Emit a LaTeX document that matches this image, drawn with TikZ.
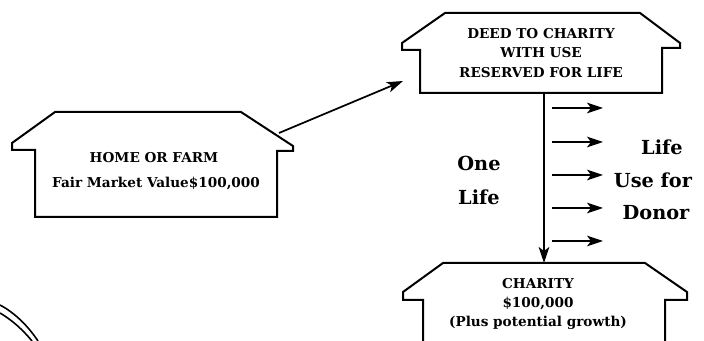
\documentclass[tikz,border=0pt]{standalone}
\usepackage{fontspec}
\setmainfont{DejaVu Serif}
\usetikzlibrary{arrows.meta,positioning}
\tikzset{
	house/.style={draw,line width=1.5pt,line join=miter},
	lbl/.style={font=\bfseries\fontsize{10.2}{14.5}\selectfont,align=center},
	big/.style={font=\bfseries\fontsize{14.5}{18}\selectfont},
	flow/.style={line width=1.3pt,-{Stealth[length=12pt,width=8pt,inset=3pt]}}
}
\begin{document}
\begin{tikzpicture}[x=0.75pt,y=-0.75pt]
	\useasboundingbox (0,0) rectangle (704,341);
	% houses
	\draw[house] (35,217) -- (35,150) -- (12,150) -- (12,143) -- (55,112) -- (241,112)
		-- (293,146) -- (293,151) -- (277,151) -- (277,217) -- cycle;
	\draw[house] (420,93) -- (420,50) -- (402,50) -- (402,43) -- (445,13) -- (640,13)
		-- (680,43) -- (680,48) -- (662,48) -- (662,93) -- cycle;
	\draw[house] (423,341) -- (423,300) -- (403,300) -- (403,292) -- (443,263) -- (645,263)
		-- (687,292) -- (687,300) -- (665,300) -- (665,341);
	% texts
	\node[lbl] (home) at (154,158) {HOME OR FARM};
	\node[lbl] (value) at (156,183) {Fair Market Value\$100,000};
	\node[lbl] (deed) at (541,53) {DEED TO CHARITY\\WITH USE\\RESERVED FOR LIFE};
	\node[lbl] (charity) at (538,304) {CHARITY\\\$100,000\\(Plus potential growth)};
	\node[big] (one) at (479,163) {One};
	\node[big] (onelife) at (479,197) {Life};
	\node[big] (life) at (662,147) {Life};
	\node[big] (usefor) at (653,180) {Use for};
	\node[big] (donor) at (656,213) {Donor};
	% connectors
	\coordinate (homeroof) at (279,133);
	\coordinate (deedside) at (403,81);
	\coordinate (deedbase) at (544,93);
	\coordinate (charitytop) at (544,263);
	\draw[flow] (homeroof) -- (deedside);
	\draw[flow] (deedbase) -- (charitytop);
	\foreach \i/\y in {1/108,2/142,3/175,4/208,5/241} {
		\coordinate (use\i) at (552,\y);
		\coordinate (donor\i) at (603,\y);
		\draw[flow] (use\i) -- (donor\i);
	}
	% arcs bottom left
	\draw[line width=1.2pt] (0,305) .. controls (15,313) and (28,326) .. (38,341);
	\draw[line width=1.2pt] (0,313) .. controls (12,320) and (23,330) .. (32,341);
\end{tikzpicture}
\end{document}
